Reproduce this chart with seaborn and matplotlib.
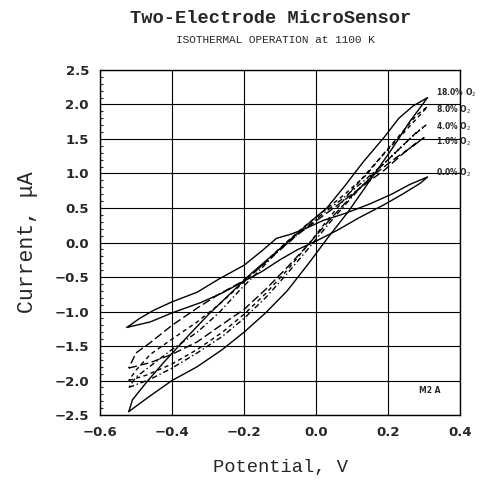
import matplotlib
matplotlib.use("Agg")
import matplotlib.pyplot as plt
from matplotlib.ticker import MultipleLocator
import pandas as pd
import seaborn as sns

# Hysteresis loops: forward (lower) branch, then return (upper) branch
o2_00_v = [-0.525, -0.49, -0.45, -0.40, -0.33, -0.27, -0.20, -0.15, -0.11, -0.07, -0.03, 0.02, 0.08, 0.15, 0.21, 0.26, 0.31,
           0.29, 0.24, 0.19, 0.12, 0.06, 0.00, -0.05, -0.10, -0.15, -0.20, -0.26, -0.32, -0.40, -0.46, -0.525]
o2_00_i = [-1.23, -1.10, -0.98, -0.86, -0.72, -0.53, -0.33, -0.12, 0.06, 0.12, 0.20, 0.32, 0.42, 0.56, 0.70, 0.84, 0.95,
           0.86, 0.70, 0.55, 0.36, 0.18, 0.02, -0.10, -0.25, -0.42, -0.56, -0.73, -0.87, -1.02, -1.15, -1.23]

o2_01_v = [-0.52, -0.46, -0.40, -0.33, -0.27, -0.20, -0.14, -0.08, -0.02, 0.04, 0.10, 0.16, 0.22, 0.27, 0.30,
           0.28, 0.24, 0.19, 0.13, 0.07, 0.01, -0.05, -0.11, -0.16, -0.21, -0.27, -0.33, -0.40, -0.46, -0.50, -0.52]
o2_01_i = [-1.82, -1.74, -1.62, -1.44, -1.22, -0.97, -0.68, -0.36, -0.02, 0.34, 0.68, 0.98, 1.22, 1.40, 1.52,
           1.45, 1.28, 1.05, 0.82, 0.58, 0.35, 0.12, -0.15, -0.38, -0.58, -0.75, -0.95, -1.20, -1.45, -1.60, -1.82]

o2_04_v = [-0.52, -0.46, -0.40, -0.33, -0.26, -0.20, -0.14, -0.08, -0.02, 0.04, 0.10, 0.16, 0.22, 0.27, 0.305,
           0.28, 0.24, 0.19, 0.13, 0.07, 0.01, -0.05, -0.11, -0.16, -0.21, -0.27, -0.33, -0.40, -0.45, -0.50, -0.52]
o2_04_i = [-2.10, -1.98, -1.82, -1.60, -1.36, -1.10, -0.80, -0.45, -0.08, 0.30, 0.66, 1.00, 1.30, 1.55, 1.70,
           1.60, 1.40, 1.15, 0.88, 0.62, 0.38, 0.12, -0.15, -0.42, -0.68, -1.02, -1.30, -1.55, -1.75, -1.95, -2.10]

o2_08_v = [-0.52, -0.47, -0.40, -0.33, -0.26, -0.20, -0.14, -0.08, -0.02, 0.04, 0.10, 0.16, 0.22, 0.27, 0.31,
           0.28, 0.24, 0.19, 0.14, 0.08, 0.02, -0.04, -0.10, -0.16, -0.21, -0.27, -0.33, -0.40, -0.46, -0.50, -0.52]
o2_08_i = [-2.00, -1.92, -1.76, -1.55, -1.30, -1.04, -0.74, -0.40, -0.02, 0.38, 0.76, 1.12, 1.46, 1.74, 1.97,
           1.85, 1.60, 1.30, 0.98, 0.70, 0.45, 0.20, -0.08, -0.38, -0.62, -0.90, -1.15, -1.40, -1.62, -1.85, -2.00]

o2_18_v = [-0.52, -0.46, -0.40, -0.33, -0.26, -0.20, -0.14, -0.08, -0.02, 0.03, 0.09, 0.15, 0.21, 0.26, 0.31,
           0.27, 0.23, 0.19, 0.13, 0.08, 0.03, -0.02, -0.07, -0.12, -0.18, -0.24, -0.30, -0.36, -0.42, -0.47, -0.51, -0.52]
o2_18_i = [-2.45, -2.22, -2.00, -1.80, -1.55, -1.30, -1.02, -0.70, -0.30, 0.05, 0.45, 0.90, 1.35, 1.75, 2.10,
           1.98, 1.80, 1.53, 1.16, 0.82, 0.50, 0.28, 0.05, -0.18, -0.45, -0.75, -1.05, -1.38, -1.72, -2.02, -2.28, -2.45]

loop_names = ["0.0", "1.0", "4.0", "8.0", "18.0"]
loop_label_y = [1.01, 1.46, 1.68, 1.92, 2.17]

x_ticks = [-0.6, -0.4, -0.2, 0.0, 0.2, 0.4]
y_ticks = [-2.5, -2.0, -1.5, -1.0, -0.5, 0.0, 0.5, 1.0, 1.5, 2.0, 2.5]

loops = {
    "0.0": (o2_00_v, o2_00_i, "-"),
    "1.0": (o2_01_v, o2_01_i, (0, (6, 2.5))),
    "4.0": (o2_04_v, o2_04_i, (0, (4, 2, 1, 2))),
    "8.0": (o2_08_v, o2_08_i, (0, (3, 2.5))),
    "18.0": (o2_18_v, o2_18_i, "-"),
}

sns.set_style("white")
plt.rcParams["font.family"] = ["DejaVu Sans"]

fig = plt.figure(figsize=(4.85, 4.87), dpi=100)
ax = fig.add_axes([0.2062, 0.1478, 0.7423, 0.7085])

for name in loop_names:
    v, i, ls = loops[name]
    df = pd.DataFrame({"potential": v, "current": i})
    sns.lineplot(data=df, x="potential", y="current", sort=False, estimator=None,
                 color="black", lw=1.0, linestyle=ls, ax=ax, legend=False)

ax.set_xlim(-0.6, 0.4)
ax.set_ylim(-2.5, 2.5)
ax.set_xticks(x_ticks)
ax.set_yticks(y_ticks)
ax.set_xticklabels([f"{t:.1f}".replace("-", "\u2212") for t in x_ticks],
                   fontsize=9.5, fontweight="bold")
ax.set_yticklabels([f"{t:.1f}".replace("-", "\u2212") for t in y_ticks],
                   fontsize=9.5, fontweight="bold")
ax.yaxis.set_minor_locator(MultipleLocator(0.1))
ax.tick_params(axis="both", which="major", length=0, pad=8)
ax.tick_params(axis="y", which="minor", direction="in", length=2.5, width=0.8, left=True)

ax.grid(True, color="black", lw=0.8)
for sp in ax.spines.values():
    sp.set_color("black")
    sp.set_linewidth(1.0)

ax.set_xlabel("Potential, V", family="Liberation Mono", fontsize=13.5, labelpad=14)
ax.set_ylabel("Current, \u03bcA", family="Liberation Mono", fontsize=15.5, labelpad=12)

# O2 concentration labels at the right end of each loop
for name, yy in zip(loop_names, loop_label_y):
    ax.text(0.333, yy, f"{name}% O$_2$", fontsize=5.5, fontweight="bold",
            ha="left", va="center", clip_on=False)
ax.text(0.345, -2.15, "M2 A", fontsize=5.5, fontweight="bold", ha="right", va="center")

fig.text(0.557, 0.961, "Two-Electrode MicroSensor", family="Liberation Mono",
         fontweight="bold", fontsize=13.5, ha="center", va="center")
fig.text(0.567, 0.918, "ISOTHERMAL OPERATION at 1100 K", family="Liberation Mono",
         fontsize=8, ha="center", va="center")

fig.savefig("out.png", dpi=100)
